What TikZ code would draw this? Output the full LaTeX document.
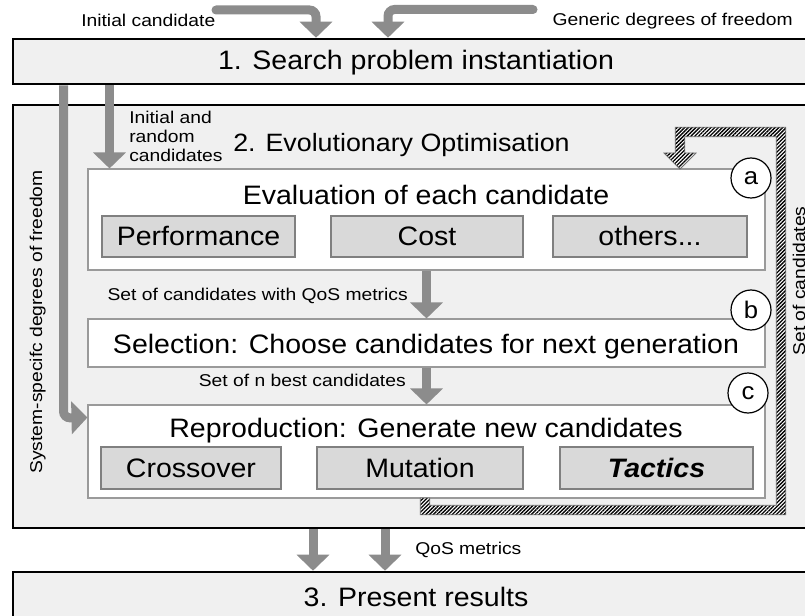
\documentclass[tikz,border=0pt]{standalone}
\usepackage{fontspec}
\setmainfont[FakeStretch=1.07]{Liberation Sans}
\newfontfamily\labelfam[FakeStretch=1.13]{Liberation Sans}
\usetikzlibrary{arrows.meta,patterns.meta,fit,calc}

\definecolor{panelbg}{HTML}{F0F0F0}
\definecolor{cellbg}{HTML}{D9D9D9}
\definecolor{cellline}{HTML}{808080}
\definecolor{panelline}{HTML}{9A9A9A}
\definecolor{bargray}{HTML}{8C8C8C}
\definecolor{hatchline}{HTML}{6E6E6E}

\begin{document}
\begin{tikzpicture}[
  x=0.75pt, y=-0.75pt,
  frame/.style={draw=black, line width=1.9pt, fill=panelbg, inner sep=0pt},
  panel/.style={draw=panelline, line width=0.8pt, fill=white, inner sep=0pt},
  cell/.style={draw=cellline, line width=0.8pt, fill=cellbg, inner sep=0pt},
  title/.style={font=\fontsize{20pt}{24pt}\selectfont, inner sep=0pt},
  small/.style={font=\labelfam\fontsize{12.8pt}{15pt}\selectfont, inner sep=0pt},
  tag/.style={circle, draw=black, line width=0.9pt, fill=white, minimum size=30pt,
              inner sep=0pt, font=\fontsize{18pt}{20pt}\selectfont},
  bar/.style={draw=bargray, line width=6.75pt, rounded corners=5pt,
              -{Triangle[width=24pt,length=12pt]}},
]
\useasboundingbox (0,0) rectangle (805,616);
\clip (0,0) rectangle (805,616);
\fill[white] (0,0) rectangle (805,616);

% ---- three stages ----
\node[frame, fit={(13,39)(819,84)}] (box1) {};
\node[frame, fit={(13,105)(819,528)}] (box2) {};
\node[frame, fit={(13,572)(819,624)}] (box3) {};

\node[title, anchor=base] (t1) at (416,70) {1. Search problem instantiation};
\node[title, anchor=base] (t3) at (416,606) {3. Present results};
\node[title, font=\fontsize{18.8pt}{22pt}\selectfont, anchor=base west] (t2) at (233,152) {2. Evolutionary Optimisation};

% ---- evolutionary loop panels ----
\node[panel, fit={(88,169)(765,270)}] (eval) {};
\node[panel, fit={(88,319)(765,367)}] (sel) {};
\node[panel, fit={(88,405)(765,498)}] (repro) {};

\node[title, anchor=base] (evalT) at (426,205) {Evaluation of each candidate};
\node[cell, fit={(102,216)(295,257)}] (perf) {};
\node[cell, fit={(331,216)(523,257)}] (cost) {};
\node[cell, fit={(553,216)(747,257)}] (oth) {};
\node[title, anchor=base] at ($(perf.center)+(0,9.5)$) {Performance};
\node[title, anchor=base] at ($(cost.center)+(0,9.5)$) {Cost};
\node[title, anchor=base] at ($(oth.center)+(0,9.5)$) {others...};

\node[title, anchor=base] (selT) at (426,353) {Selection: Choose candidates for next generation};

\node[title, anchor=base] (reproT) at (426,437) {Reproduction: Generate new candidates};
\node[cell, fit={(101,447)(281,489)}] (cross) {};
\node[cell, fit={(317,447)(523,489)}] (mut) {};
\node[cell, fit={(560,447)(753,489)}] (tac) {};
\node[title, anchor=base] at ($(cross.center)+(0,9.5)$) {Crossover};
\node[title, anchor=base] at ($(mut.center)+(0,9.5)$) {Mutation};
\node[title, anchor=base] at ($(tac.center)+(0,9.5)$) {\bfseries\itshape Tactics};

\node[tag] (ta) at (751,178) {a};
\node[tag] (tb) at (751,310) {b};
\node[tag] (tc) at (748,393) {c};

% ---- hatched feedback arrow: set of candidates back to evaluation ----
\coordinate (fbStart) at (425,498);
\coordinate (fbTip) at (680,169);
\path[fill=white] (420.25,498) -- (420.25,514.75) -- (785.75,514.75) -- (785.75,127.25)
  -- (675.25,127.25) -- (675.25,153) -- (664,153) -- (fbTip) -- (696,153) -- (684.75,153)
  -- (684.75,136.75) -- (776.25,136.75) -- (776.25,505.25) -- (429.75,505.25) -- (429.75,498) -- cycle;
\path[pattern={Lines[angle=45,distance=2.0pt,line width=1.0pt]}, pattern color=black,
      draw=hatchline, line width=0.6pt]
  (420.25,498) -- (420.25,514.75) -- (785.75,514.75) -- (785.75,127.25)
  -- (675.25,127.25) -- (675.25,153) -- (664,153) -- (fbTip) -- (696,153) -- (684.75,153)
  -- (684.75,136.75) -- (776.25,136.75) -- (776.25,505.25) -- (429.75,505.25) -- (429.75,498) -- cycle;
\node[small, rotate=90, anchor=base] (fbLbl) at (805,281) {Set of candidates};

% ---- grey flow arrows ----
\coordinate (icStart) at (216,10);
\coordinate (icTurn) at (316,10);
\draw[bar, line cap=round] (icStart) -- (icTurn) -- (icTurn |- box1.north);
\coordinate (gdStart) at (533,9.5);
\coordinate (gdTurn) at (388,9.5);
\draw[bar, line cap=round] (gdStart) -- (gdTurn) -- (gdTurn |- box1.north);

\node[small, anchor=base west] (icLbl) at (81,27) {Initial candidate};
\node[small, anchor=base east] (gdLbl) at (793,26) {Generic degrees of freedom};

\coordinate (ssX) at (63.5,0);
\draw[bar] (ssX |- box1.south) -- (ssX |- 0,418) -- ($(repro.north west)+(0,13)$);
\node[small, rotate=90, anchor=base] (ssLbl) at (42,322) {System-specifc degrees of freedom};

\coordinate (irX) at (109.5,0);
\draw[bar] (irX |- box1.south) -- (irX |- eval.north);
\node[small, anchor=base west] (ir1) at (129,124) {Initial and};
\node[small, anchor=base west] (ir2) at (129,143) {random};
\node[small, anchor=base west] (ir3) at (129,162) {candidates};

\draw[bar] (eval.south) -- (sel.north);
\node[small, anchor=base east] (qmLbl) at (408,300) {Set of candidates with QoS metrics};
\draw[bar] (sel.south) -- (repro.north);
\node[small, anchor=base east] (nbLbl) at (406,386) {Set of n best candidates};

\coordinate (rA) at (313,0);
\coordinate (rB) at (385,0);
\draw[bar] (rA |- box2.south) -- (rA |- box3.north);
\draw[bar] (rB |- box2.south) -- (rB |- box3.north);
\node[small, anchor=base west] (qosLbl) at (415,554) {QoS metrics};
\end{tikzpicture}
\end{document}
